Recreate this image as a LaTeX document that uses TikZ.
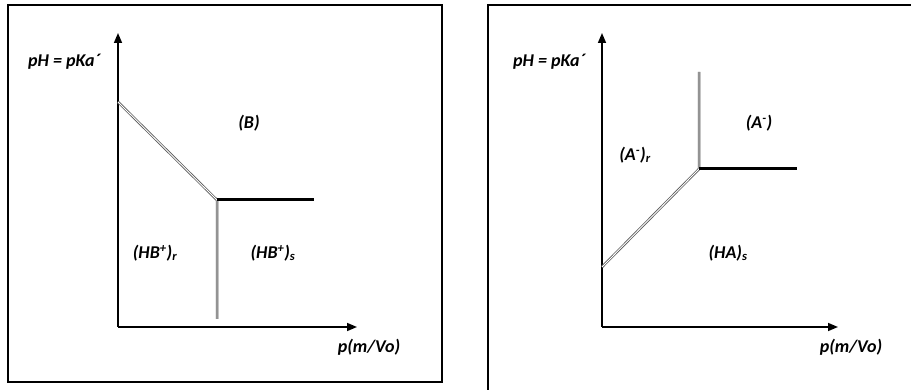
\documentclass[tikz,border=0pt]{standalone}
\usepackage{fontspec}
\setmainfont{Carlito}
\usetikzlibrary{arrows.meta,positioning}
\tikzset{
  axis/.style={-{Triangle[length=10pt,width=8pt]},line width=1.6pt},
  frame/.style={line width=1.5pt},
  dblline/.style={draw=black!65,double=white,double distance=0.9pt,line width=0.8pt},
  boundary/.style={line width=3pt},
  lbl/.style={font=\fontsize{18}{20}\selectfont\bfseries\itshape,inner sep=0pt}
}

\begin{document}
\begin{tikzpicture}[x=1pt,y=-1pt]
  \useasboundingbox (0,0) rectangle (911,390);

  % left panel: base
  \draw[frame] (8,5) rectangle (442,382);
  \coordinate (bo) at (118,327);
  \coordinate (by) at (118,33);
  \coordinate (bx) at (357,327);
  \coordinate (bstart) at (118,102);
  \coordinate (bknee) at (217,200);
  \coordinate (bdown) at (217,319);
  \coordinate (bright) at (314,200);
  \draw[axis] (bo) -- (by);
  \draw[axis] (bo) -- (bx);
  \draw[dblline] (bstart) -- (bknee) -- (bdown);
  \draw[boundary] (bknee) -- (bright);
  \node[lbl] (bph) at (64,62) {pH = pKa´};
  \node[lbl] (bpm) at (369,347) {p(m/Vo)};
  \node[lbl] (bB) at (249,123) {(B)};
  \node[lbl] (bHBr) at (155,253) {(HB\textsuperscript{+})\textsubscript{r}};
  \node[lbl] (bHBs) at (273,253) {(HB\textsuperscript{+})\textsubscript{s}};

  % right panel: acid
  \draw[frame] (488,390) -- (488,5) -- (911,5);
  \coordinate (ao) at (602,327);
  \coordinate (ay) at (602,33);
  \coordinate (ax) at (838,327);
  \coordinate (astart) at (602,267);
  \coordinate (aknee) at (699,169);
  \coordinate (aup) at (699,72);
  \coordinate (aright) at (797,169);
  \draw[axis] (ao) -- (ay);
  \draw[axis] (ao) -- (ax);
  \draw[dblline] (astart) -- (aknee) -- (aup);
  \draw[boundary] (aknee) -- (aright);
  \node[lbl] (aph) at (549,62) {pH = pKa´};
  \node[lbl] (apm) at (851,347) {p(m/Vo)};
  \node[lbl] (aA) at (759,123) {(A\textsuperscript{-})};
  \node[lbl] (aAr) at (635,155) {(A\textsuperscript{-})\textsubscript{r}};
  \node[lbl] (aHAs) at (728,253) {(HA)\textsubscript{s}};
\end{tikzpicture}
\end{document}
